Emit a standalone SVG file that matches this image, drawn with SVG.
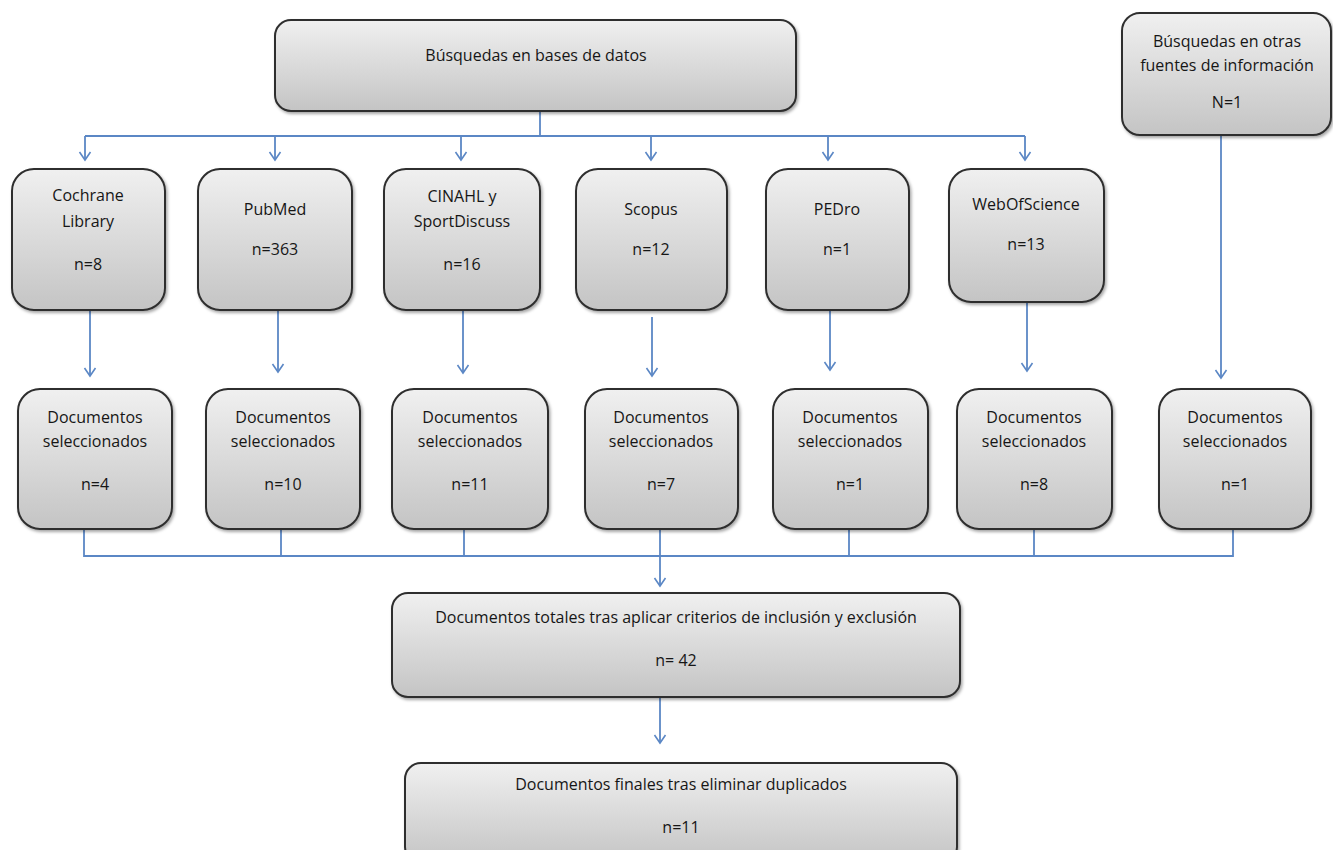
<svg xmlns="http://www.w3.org/2000/svg" width="1333" height="850" viewBox="0 0 1333 850">
<defs>
<linearGradient id="g" x1="0" y1="0" x2="0" y2="1">
<stop offset="0" stop-color="#f0f0f0"/>
<stop offset="1" stop-color="#c4c4c4"/>
</linearGradient>
<filter id="sh" x="-10%" y="-10%" width="125%" height="130%">
<feDropShadow dx="1.5" dy="2" stdDeviation="1.5" flood-color="#000" flood-opacity="0.35"/>
</filter>
<marker id="ah" viewBox="-10 -7 12 14" refX="0" refY="0" markerWidth="12" markerHeight="14" markerUnits="userSpaceOnUse" orient="auto">
<path d="M-8,-5.5 L0,0 L-8,5.5" fill="none" stroke="#5b87c5" stroke-width="1.6"/>
</marker>
</defs>
<style>
.box{fill:url(#g);stroke:#2e2e2e;stroke-width:2;filter:url(#sh)}
.t{font-family:"Open Sans","DejaVu Sans",sans-serif;font-size:16px;fill:#161616;text-anchor:middle}
.c{fill:none;stroke:#5b87c5;stroke-width:1.8}
.a{marker-end:url(#ah)}
</style>
<rect width="1333" height="850" fill="#ffffff"/>

<g id="connectors">
<path class="c" d="M540,111 V136 M85,136 H1025"/>
<path class="c a" d="M85,136 V160"/>
<path class="c a" d="M275,136 V160"/>
<path class="c a" d="M461,136 V160"/>
<path class="c a" d="M651,136 V160"/>
<path class="c a" d="M828,136 V160"/>
<path class="c a" d="M1025,136 V160"/>
<path class="c a" d="M90,310 V376"/>
<path class="c a" d="M278,310 V372"/>
<path class="c a" d="M463,310 V373"/>
<path class="c a" d="M652,317 V376"/>
<path class="c a" d="M830,310 V370"/>
<path class="c a" d="M1027,302 V371"/>
<path class="c a" d="M1221,135 V378"/>
<path class="c" d="M84,529 V556 H1233 V529 M281,529 V556 M464,529 V556 M849,529 V556 M1034,529 V556"/>
<path class="c a" d="M660,529 V586"/>
<path class="c a" d="M660,697 V743"/>
</g>

<g id="n-bases">
<rect class="box" x="275" y="20" width="521" height="91" rx="16"/>
<text class="t" x="536" y="61">Búsquedas en bases de datos</text>
</g>
<g id="n-otras">
<rect class="box" x="1122" y="13" width="209" height="122" rx="18"/>
<text class="t" x="1227" y="47">Búsquedas en otras</text>
<text class="t" x="1227" y="71">fuentes de información</text>
<text class="t" x="1227" y="108">N=1</text>
</g>

<g id="n-cochrane">
<rect class="box" x="12" y="169" width="153" height="141" rx="22"/>
<text class="t" x="88" y="201">Cochrane</text>
<text class="t" x="88" y="227">Library</text>
<text class="t" x="88" y="270">n=8</text>
</g>
<g id="n-pubmed">
<rect class="box" x="198" y="169" width="154" height="141" rx="22"/>
<text class="t" x="275" y="215">PubMed</text>
<text class="t" x="275" y="255">n=363</text>
</g>
<g id="n-cinahl">
<rect class="box" x="384" y="169" width="156" height="141" rx="22"/>
<text class="t" x="462" y="202">CINAHL y</text>
<text class="t" x="462" y="227">SportDiscuss</text>
<text class="t" x="462" y="270">n=16</text>
</g>
<g id="n-scopus">
<rect class="box" x="576" y="169" width="151" height="141" rx="22"/>
<text class="t" x="651" y="215">Scopus</text>
<text class="t" x="651" y="255">n=12</text>
</g>
<g id="n-pedro">
<rect class="box" x="766" y="169" width="143" height="141" rx="22"/>
<text class="t" x="837" y="215">PEDro</text>
<text class="t" x="837" y="255">n=1</text>
</g>
<g id="n-wos">
<rect class="box" x="949" y="169" width="155" height="133" rx="22"/>
<text class="t" x="1026" y="210">WebOfScience</text>
<text class="t" x="1026" y="250">n=13</text>
</g>

<g id="n-sel1">
<rect class="box" x="18" y="389" width="154" height="140" rx="22"/>
<text class="t" x="95" y="423">Documentos</text>
<text class="t" x="95" y="447">seleccionados</text>
<text class="t" x="95" y="490">n=4</text>
</g>
<g id="n-sel2">
<rect class="box" x="206" y="389" width="154" height="140" rx="22"/>
<text class="t" x="283" y="423">Documentos</text>
<text class="t" x="283" y="447">seleccionados</text>
<text class="t" x="283" y="490">n=10</text>
</g>
<g id="n-sel3">
<rect class="box" x="392" y="389" width="156" height="140" rx="22"/>
<text class="t" x="470" y="423">Documentos</text>
<text class="t" x="470" y="447">seleccionados</text>
<text class="t" x="470" y="490">n=11</text>
</g>
<g id="n-sel4">
<rect class="box" x="585" y="389" width="153" height="140" rx="22"/>
<text class="t" x="661" y="423">Documentos</text>
<text class="t" x="661" y="447">seleccionados</text>
<text class="t" x="661" y="490">n=7</text>
</g>
<g id="n-sel5">
<rect class="box" x="773" y="389" width="155" height="140" rx="22"/>
<text class="t" x="850" y="423">Documentos</text>
<text class="t" x="850" y="447">seleccionados</text>
<text class="t" x="850" y="490">n=1</text>
</g>
<g id="n-sel6">
<rect class="box" x="957" y="389" width="155" height="140" rx="22"/>
<text class="t" x="1034" y="423">Documentos</text>
<text class="t" x="1034" y="447">seleccionados</text>
<text class="t" x="1034" y="490">n=8</text>
</g>
<g id="n-sel7">
<rect class="box" x="1159" y="389" width="152" height="140" rx="22"/>
<text class="t" x="1235" y="423">Documentos</text>
<text class="t" x="1235" y="447">seleccionados</text>
<text class="t" x="1235" y="490">n=1</text>
</g>

<g id="n-totales">
<rect class="box" x="392" y="593" width="568" height="104" rx="16"/>
<text class="t" x="676" y="623">Documentos totales tras aplicar criterios de inclusión y exclusión</text>
<text class="t" x="676" y="666">n= 42</text>
</g>
<g id="n-finales">
<rect class="box" x="405" y="763" width="552" height="100" rx="16"/>
<text class="t" x="681" y="790">Documentos finales tras eliminar duplicados</text>
<text class="t" x="681" y="833">n=11</text>
</g>
</svg>
